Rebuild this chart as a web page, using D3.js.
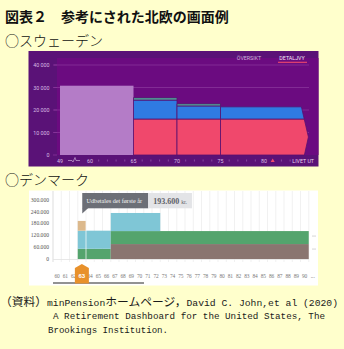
<!DOCTYPE html>
<html><head><meta charset="utf-8">
<script src="https://cdn.jsdelivr.net/npm/d3@7"></script>
<style>body{margin:0;background:#ffffcc}svg{display:block}</style>
</head><body>
<svg id="c" width="344" height="349"></svg>
<script>
// ---------- DATA ----------
const titleText = "図表２　参考にされた北欧の画面例";
const seHeading = "○スウェーデン";
const dkHeading = "○デンマーク";
const sourceLine1 = [
  {t: "（資料）", cjk: true},
  {t: "minPension", cjk: false},
  {t: "ホームページ，", cjk: true},
  {t: "David C. John,et al (2020)", cjk: false}
];
const sourceLines23 = [
  "A Retirement Dashboard for the United States, The",
  "Brookings Institution."
];

// Sweden (minPension)
const seYTicks = [0, 10000, 20000, 30000, 40000];
const seYLabels = ["0", "10 000", "20 000", "30 000", "40 000"];
const seXTickAges = [49, 60, 65, 70, 75, 80];
const seXTickLabels = ["49", "60", "65", "70", "75", "80"];
const seMinorAges = [61, 62, 63, 64, 66, 67, 68, 69, 71, 72, 73, 74, 76, 77, 78, 79, 82, 83];
const seMarkerAge = [81];
const seEndLabel = ["LIVET UT"];
const seEndLabelAge = [84.5];
const seTabs = ["ÖVERSIKT", "DETALJVY"];
const seEarlyFrom = [49], seEarlyTo = [65], seEarlyValue = [30800];
const seFrom = [65, 70, 75];
const seTo = [70, 75, 84.3];
const seAllman = [16000, 16000, 16000];     // red layer top
const seTjanste = [24400, 21800, 21400];    // blue layer top
const sePrivat = [25500, 22800, 21400];     // green cap top

// Denmark (PensionsInfo)
const dkYTicks = [0, 60000, 120000, 180000, 240000, 300000];
const dkYLabels = ["0", "60.000", "120.000", "180.000", "240.000", "300.000"];
const dkAges = [60,61,62,63,64,65,66,67,68,69,70,71,72,73,74,75,76,77,78,79,80,81,82,83,84,85,86,87,88,89,90];
const dkBarFrom = [63, 63, 63, 67, 67, 67];
const dkBarTo = [66, 66, 63, 90, 90, 72];
const dkBarLow = [0, 52000, 144000, 0, 76000, 142000];
const dkBarHigh = [52000, 144000, 193600, 76000, 142000, 234000];
const dkBarSeries = ["green", "blue", "tan", "brown", "green", "blue"];
const dkSelectedAge = [63];
const dkTooltipLabel = ["Udbetales det første år"];
const dkTooltipValue = ["193.600"];
const dkTooltipUnit = ["kr."];

// ---------- STYLE ----------
const seColors = {panel: "#5a1277", plot: "#6b0b80", grid: "#88339a", early: "#b47cc7",
  red: "#f0486c", blue: "#2f7be2", green: "#4f9e95", edge: "#581070", text: "#d9bde4"};
const dkColors = {green: "#54a46d", blue: "#7fc6d6", tan: "#dcb98c", brown: "#8a7570"};

const svg = d3.select("#c");
svg.append("rect").attr("width", 344).attr("height", 349).attr("fill", "#ffffcc");

svg.append("text").attr("x", 5).attr("y", 22).text(titleText)
  .attr("font-family", "Noto Sans CJK JP").attr("font-weight", "bold").attr("font-size", 14).attr("fill", "#111");
svg.append("text").attr("x", 5).attr("y", 46).text(seHeading)
  .attr("font-family", "Noto Sans CJK JP").attr("font-weight", 300).attr("font-size", 14).attr("fill", "#111");
svg.append("text").attr("x", 5).attr("y", 185).text(dkHeading)
  .attr("font-family", "Noto Sans CJK JP").attr("font-weight", 300).attr("font-size", 14).attr("fill", "#111");

// ---------- SWEDEN ----------
const se = svg.append("g");
se.append("rect").attr("x", 28.5).attr("y", 51).attr("width", 290).attr("height", 115.5).attr("fill", seColors.panel);
se.append("rect").attr("x", 57).attr("y", 58).attr("width", 261.5).attr("height", 97).attr("fill", seColors.plot);

const seX = d3.scaleLinear().domain([49, 60, 80]).range([60, 90, 264]);
const seY = d3.scaleLinear().domain([0, 40000]).range([155, 65]);

se.selectAll(".sg").data(seYTicks.slice(1)).join("line")
  .attr("x1", 54).attr("x2", 309).attr("y1", d => seY(d)).attr("y2", d => seY(d))
  .attr("stroke", seColors.grid).attr("stroke-width", 0.8);
se.selectAll(".stk").data(seYTicks).join("line")
  .attr("x1", 53).attr("x2", 57).attr("y1", d => seY(d)).attr("y2", d => seY(d))
  .attr("stroke", seColors.grid).attr("stroke-width", 0.8);
se.selectAll(".syl").data(seYTicks).join("text")
  .attr("x", 49.5).attr("y", d => seY(d) + 2).attr("text-anchor", "end")
  .attr("font-family", "Roboto").attr("font-size", 5.3).attr("fill", seColors.text)
  .text((d, i) => seYLabels[i]);

se.selectAll(".early").data(seEarlyValue).join("rect")
  .attr("x", (d, i) => seX(seEarlyFrom[i])).attr("width", (d, i) => seX(seEarlyTo[i]) - seX(seEarlyFrom[i]))
  .attr("y", d => seY(d)).attr("height", d => seY(0) - seY(d))
  .attr("fill", seColors.early);

const arrowDepth = 7;
function edgeX(i, y, yTop, yTip, yBot) {
  const xe = seX(seTo[i]);
  if (i < seTo.length - 1) return xe;
  if (y <= yTip) return xe + arrowDepth * (y - yTop) / (yTip - yTop);
  return xe + arrowDepth - (arrowDepth - 3) * (y - yTip) / (yBot - yTip);
}
seFrom.forEach((f, i) => {
  const xl = seX(f);
  const yBot = seY(0), yTop = seY(Math.max(seTjanste[i], sePrivat[i]));
  const yTip = (seY(0) + seY(seAllman[i])) / 2;
  const layers = [
    {lo: 0, hi: seAllman[i], c: seColors.red},
    {lo: seAllman[i], hi: seTjanste[i], c: seColors.blue},
    {lo: seTjanste[i], hi: sePrivat[i], c: seColors.green}
  ].filter(l => l.hi > l.lo);
  layers.forEach(l => {
    const yt = seY(l.hi), yb = seY(l.lo);
    const pts = [[xl, yt], [edgeX(i, yt, yTop, yTip, yBot), yt]];
    if (i === seTo.length - 1 && yTip > yt && yTip < yb) pts.push([edgeX(i, yTip, yTop, yTip, yBot), yTip]);
    pts.push([edgeX(i, yb, yTop, yTip, yBot), yb], [xl, yb]);
    se.append("polygon").attr("points", pts.map(p => p.join(",")).join(" "))
      .attr("fill", l.c).attr("stroke", seColors.edge).attr("stroke-width", 0.8).attr("stroke-linejoin", "miter");
  });
});

se.selectAll(".sxl").data(seXTickAges).join("text")
  .attr("x", d => seX(d)).attr("y", 162.5).attr("text-anchor", "middle")
  .attr("font-family", "Roboto").attr("font-size", 5.3).attr("fill", seColors.text)
  .text((d, i) => seXTickLabels[i]);
se.selectAll(".sxm").data(seMinorAges).join("line")
  .attr("x1", d => seX(d)).attr("x2", d => seX(d)).attr("y1", 159.5).attr("y2", 161.5)
  .attr("stroke", "#9a5db0").attr("stroke-width", 0.7);
const bx = (seX(49) + seX(60)) / 2 - 1;
se.append("path")
  .attr("d", `M${bx - 6},160.5 H${bx - 2} L${bx - 1},162 L${bx + 1},157.5 L${bx + 2},160.5 H${bx + 6}`)
  .attr("fill", "none").attr("stroke", seColors.text).attr("stroke-width", 0.6);
se.selectAll(".smk").data(seMarkerAge).join("path")
  .attr("d", d => `M${seX(d) - 2},162 L${seX(d) + 2},162 L${seX(d)},158.5 Z`).attr("fill", seColors.red);
se.selectAll(".send").data(seEndLabel).join("text")
  .attr("x", (d, i) => seX(seEndLabelAge[i])).attr("y", 162.5).attr("text-anchor", "middle")
  .attr("font-family", "Roboto").attr("font-size", 5.3).attr("fill", "#e6d2ee").text(d => d);

se.selectAll(".tab").data(seTabs).join("text")
  .attr("x", (d, i) => [249, 292][i]).attr("y", 59.5).attr("text-anchor", "middle")
  .attr("font-family", "Roboto").attr("font-size", 5.3)
  .attr("fill", (d, i) => i === 1 ? "#f2e6f6" : "#cfb3dc").text(d => d);
se.append("line").attr("x1", 278).attr("x2", 307).attr("y1", 62.3).attr("y2", 62.3)
  .attr("stroke", seColors.red).attr("stroke-width", 1.1);

// ---------- DENMARK ----------
const dk = svg.append("g");
dk.append("rect").attr("x", 29).attr("y", 190.5).attr("width", 289).attr("height", 95).attr("fill", "#ffffff");

const dkX = d3.scaleBand().domain(dkAges).range([53, 53 + 8.25 * dkAges.length]);
const dkY = d3.scaleLinear().domain([0, 300000]).range([259, 200]);

const bounds = dkAges.map(a => dkX(a)).concat([dkX(dkAges[dkAges.length - 1]) + dkX.bandwidth()]);
dk.selectAll(".dg").data(bounds).join("line")
  .attr("x1", d => d).attr("x2", d => d).attr("y1", 191).attr("y2", 262)
  .attr("stroke", "#ebebeb").attr("stroke-width", 0.7);
dk.append("line").attr("x1", 53).attr("x2", 53).attr("y1", 191).attr("y2", 262)
  .attr("stroke", "#dcdcdc").attr("stroke-width", 0.7);

dk.selectAll(".dyl").data(dkYTicks).join("text")
  .attr("x", 49).attr("y", d => dkY(d) + 1.8).attr("text-anchor", "end")
  .attr("font-family", "Liberation Serif").attr("font-size", 5.6).attr("fill", "#555")
  .text((d, i) => dkYLabels[i]);

dk.selectAll(".db").data(dkBarFrom).join("rect")
  .attr("x", (d, i) => dkX(d))
  .attr("width", (d, i) => dkX(dkBarTo[i]) + dkX.bandwidth() - dkX(d))
  .attr("y", (d, i) => dkY(dkBarHigh[i]))
  .attr("height", (d, i) => dkY(dkBarLow[i]) - dkY(dkBarHigh[i]))
  .attr("fill", (d, i) => dkColors[dkBarSeries[i]]);

dk.append("line").attr("x1", 53).attr("x2", 309).attr("y1", dkY(0) + 0.5).attr("y2", dkY(0) + 0.5)
  .attr("stroke", "#e2e2e2").attr("stroke-width", 0.8);
dk.selectAll(".rd").data([dkBarHigh[4], dkBarHigh[3]]).join("line")
  .attr("x1", 312).attr("x2", 316).attr("y1", d => dkY(d) + 5).attr("y2", d => dkY(d) + 5)
  .attr("stroke", "#c4c4c4").attr("stroke-width", 0.7);

const selRight = dkX(dkSelectedAge[0]) + dkX.bandwidth();
dk.append("line").attr("x1", selRight).attr("x2", selRight).attr("y1", 213).attr("y2", dkY(0))
  .attr("stroke", "#ffffff").attr("stroke-width", 0.9).attr("opacity", 0.8);

const tx = dkX(dkSelectedAge[0]) + 4.5;
dk.append("rect").attr("x", tx).attr("y", 193).attr("width", 66).attr("height", 15.3).attr("fill", "#6c6f77");
dk.append("path").attr("d", `M${tx},208 L${tx + 6},208 L${tx},213.5 Z`).attr("fill", "#6c6f77");
dk.append("rect").attr("x", tx + 66).attr("y", 193).attr("width", 43.7).attr("height", 15.3).attr("fill", "#e3e4e7");
dk.selectAll(".ttl").data(dkTooltipLabel).join("text")
  .attr("x", tx + 4.3).attr("y", 202.8).attr("font-family", "Liberation Serif").attr("font-size", 5.4)
  .attr("fill", "#f4f4f4").attr("textLength", 55.5).attr("lengthAdjust", "spacingAndGlyphs").text(d => d);
const tv = dk.append("text").attr("x", tx + 71).attr("y", 203.5).attr("font-family", "Liberation Serif").attr("fill", "#5e6168");
tv.append("tspan").attr("font-size", 8).attr("font-weight", "bold").text(dkTooltipValue[0]);
tv.append("tspan").attr("font-size", 5.5).attr("dx", 2).text(dkTooltipUnit[0]);

dk.selectAll(".dxl").data(dkAges).join("text")
  .attr("x", d => dkX(d) + dkX.bandwidth() / 2).attr("y", 277.5).attr("text-anchor", "middle")
  .attr("font-family", "Liberation Serif").attr("font-size", 5.4).attr("fill", "#7a7a7a").text(d => d);
dk.append("text").attr("x", dkX(90) + dkX.bandwidth() + 4).attr("y", 277.5).attr("text-anchor", "middle")
  .attr("font-family", "Liberation Serif").attr("font-size", 5.4).attr("fill", "#7a7a7a").text("...");
dk.append("line").attr("x1", 53).attr("x2", 144).attr("y1", 283).attr("y2", 283)
  .attr("stroke", "#6e6e6e").attr("stroke-width", 1.4);
const cx = dkX(dkSelectedAge[0]) + dkX.bandwidth() / 2;
dk.append("path").attr("d", `M${cx - 7},268 L${cx},264 L${cx + 7},268 L${cx + 7},283.5 L${cx - 7},283.5 Z`).attr("fill", "#e8912b");
dk.append("text").attr("x", cx).attr("y", 278).attr("text-anchor", "middle")
  .attr("font-family", "Liberation Sans").attr("font-weight", "bold").attr("font-size", 6).attr("fill", "#fff").text(dkSelectedAge[0]);

// ---------- SOURCE ----------
const monoSize = 9.5, cjkSize = 11.5;
const l1 = svg.append("text").attr("x", 0).attr("y", 306).attr("fill", "#1a1a1a")
  .attr("textLength", 338).attr("lengthAdjust", "spacingAndGlyphs");
l1.selectAll("tspan").data(sourceLine1).join("tspan")
  .attr("font-family", d => d.cjk ? "Noto Sans CJK JP" : "Liberation Mono")
  .attr("font-size", d => d.cjk ? cjkSize : monoSize)
  .attr("font-weight", 400)
  .attr("fill", "#1a1a1a")
  .text(d => d.t);
const srcX = [53, 48], srcY = [319.3, 332.7], srcLen = [272, 120];
svg.selectAll(".src").data(sourceLines23).join("text")
  .attr("x", (d, i) => srcX[i]).attr("y", (d, i) => srcY[i])
  .attr("font-family", "Liberation Mono").attr("font-size", monoSize).attr("fill", "#1a1a1a")
  .attr("textLength", (d, i) => srcLen[i]).attr("lengthAdjust", "spacingAndGlyphs").text(d => d);
</script>
</body></html>
